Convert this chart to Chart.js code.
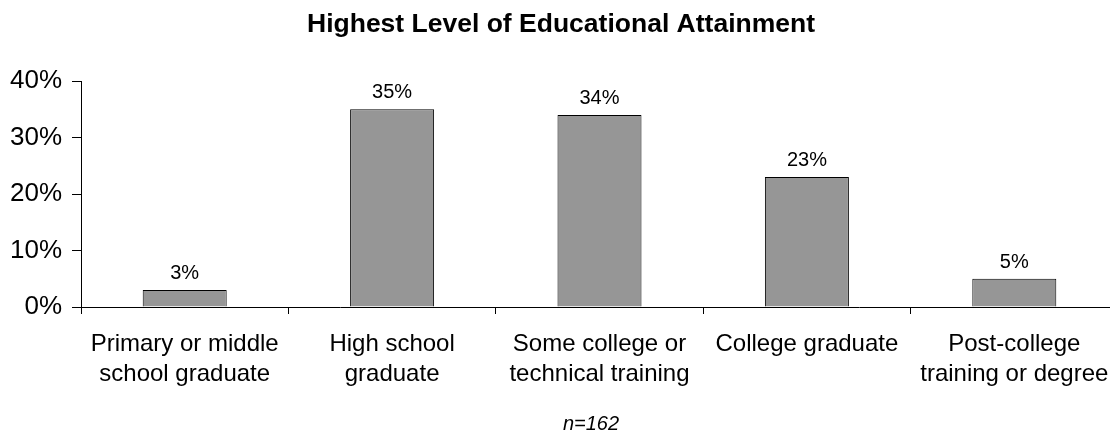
<!DOCTYPE html>
<html>
<head>
<meta charset="utf-8">
<script src="https://cdn.jsdelivr.net/npm/chart.js@4/dist/chart.umd.min.js"></script>
<style>
  html, body { margin: 0; padding: 0; background: #fff; overflow: hidden; }
  #wrap { position: relative; width: 1120px; height: 436px; }
</style>
</head>
<body>
<div id="wrap"><canvas id="c" width="1120" height="436"></canvas></div>
<script>
const categories = [
  ["Primary or middle", "school graduate"],
  ["High school", "graduate"],
  ["Some college or", "technical training"],
  ["College graduate"],
  ["Post-college", "training or degree"]
];
const values = [3, 35, 34, 23, 5];
const yTicks = [0, 10, 20, 30, 40];
const titleText = "Highest Level of Educational Attainment";
const noteText = "n=162";

const FONT = "'Liberation Sans', Arial, sans-serif";

const extras = {
  id: 'extras',
  afterDatasetsDraw(chart) {
    const ctx = chart.ctx;
    const meta = chart.getDatasetMeta(0);
    ctx.save();
    ctx.fillStyle = '#000';
    ctx.font = '20px ' + FONT;
    ctx.textAlign = 'center';
    ctx.textBaseline = 'alphabetic';
    meta.data.forEach((bar, i) => {
      ctx.fillText(values[i] + '%', bar.x, bar.y - 11);
    });
    ctx.font = 'bold 26.5px ' + FONT;
    ctx.fillText(titleText, 561, 32);
    ctx.font = 'italic 20px ' + FONT;
    ctx.fillText(noteText, 591, 430);
    ctx.restore();
  }
};

new Chart(document.getElementById('c'), {
  type: 'bar',
  data: {
    labels: categories,
    datasets: [{
      data: values,
      backgroundColor: '#969696',
      borderColor: '#000',
      borderWidth: 1,
      borderSkipped: 'bottom',
      categoryPercentage: 1,
      barPercentage: 0.405
    }]
  },
  options: {
    responsive: false,
    animation: false,
    layout: { padding: { top: 81, right: 2, bottom: 0, left: 0 } },
    plugins: { legend: { display: false }, tooltip: { enabled: false } },
    scales: {
      x: {
        offset: true,
        grid: { offset: true, drawOnChartArea: false, drawTicks: true, tickLength: 7, color: '#000' },
        border: { color: '#000', width: 1 },
        ticks: { color: '#000', font: { family: FONT, size: 24, lineHeight: 1.27 }, padding: 15, maxRotation: 0, autoSkip: false },
        afterFit(s) { s.height = 129; s.paddingLeft = 0; s.paddingRight = 0; }
      },
      y: {
        min: 0, max: 40,
        afterBuildTicks(s) { s.ticks = yTicks.map(v => ({ value: v })); },
        grid: { drawOnChartArea: false, drawTicks: true, tickLength: 9, color: '#000' },
        border: { color: '#000', width: 1 },
        ticks: { color: '#000', font: { family: FONT, size: 26 }, padding: 10, callback: v => v + '%' },
        afterFit(s) { s.width = 81; s.paddingTop = 0; s.paddingBottom = 0; }
      }
    }
  },
  plugins: [extras]
});
</script>
</body>
</html>
